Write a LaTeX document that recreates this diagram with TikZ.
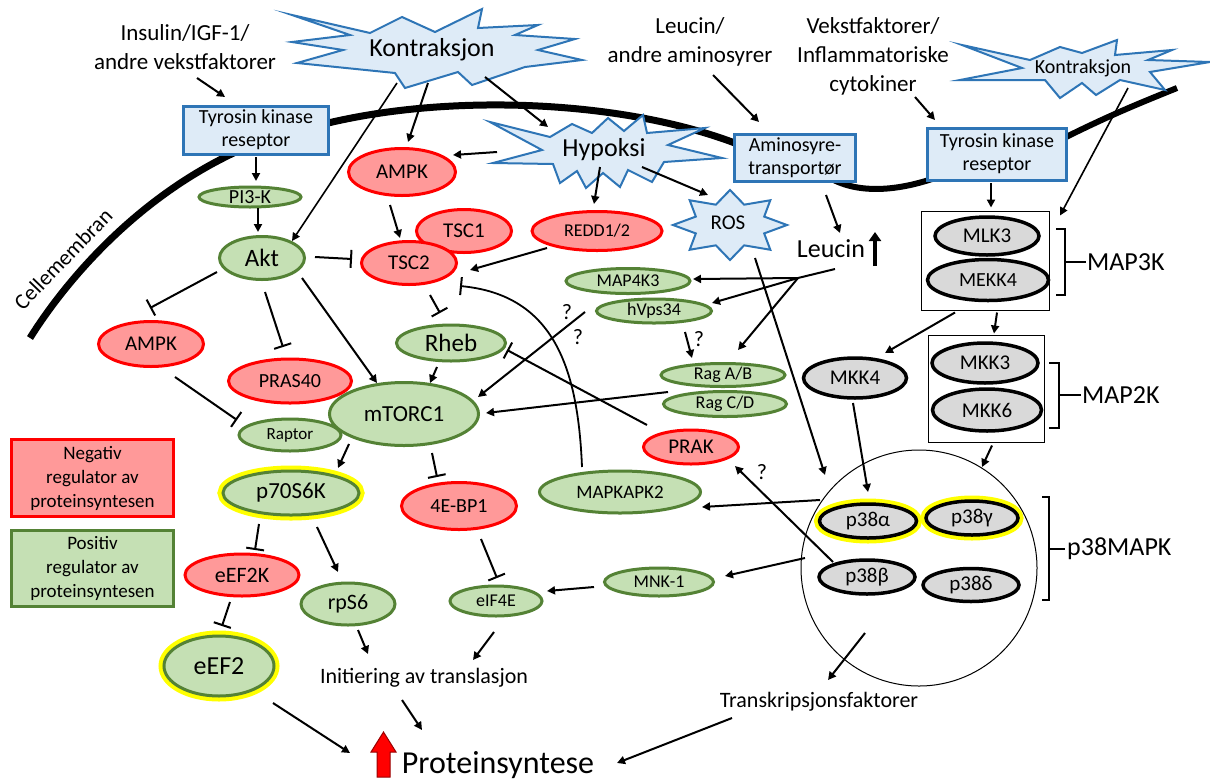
\documentclass[tikz,border=0pt]{standalone}
\usepackage{fontspec}
\setmainfont{Carlito}
\usetikzlibrary{arrows.meta,calc,shapes.geometric}
\definecolor{redfill}{HTML}{FF9999}
\definecolor{redline}{HTML}{FF0000}
\definecolor{grfill}{HTML}{C5E0B4}
\definecolor{grline}{HTML}{548235}
\definecolor{gyfill}{HTML}{D9D9D9}
\definecolor{blfill}{HTML}{DEEBF7}
\definecolor{blline}{HTML}{2E75B6}
\definecolor{ylw}{HTML}{FFFF00}
\newcommand\fz[2]{\fontsize{#1}{#2}\selectfont}
\begin{document}
\begin{tikzpicture}[x=1pt,y=-1pt,
 ell/.style={ellipse, inner sep=0pt, outer sep=0pt, line width=3pt, align=center},
 rnode/.style={ell, fill=redfill, draw=redline},
 gnode/.style={ell, fill=grfill, draw=grline},
 gynode/.style={ell, fill=gyfill, draw=black, line width=3.5pt},
 glow/.style={preaction={draw=ylw, line width=11pt}},
 bbox/.style={rectangle, fill=blfill, draw=blline, line width=3pt, align=center, inner sep=0pt, font=\fz{20}{23}},
 burst/.style={fill=blfill, draw=blline, line width=2pt, line join=miter, miter limit=20},
 arr/.style={line width=2pt, -{Triangle[length=8pt,width=8pt]}},
 inh/.style={line width=2pt, -{Bar[width=18pt,line width=2pt]}},
 txt/.style={inner sep=0pt, align=center},
 mk/.style={rectangle, draw=black, line width=1pt, inner sep=0pt},
 brk/.style={line width=2pt},
]
\useasboundingbox (0,0) rectangle (1210,780);
\fill[white] (0,0) rectangle (1210,780);

% membrane
\draw[line width=7pt] (30,338) .. controls (60,290) and (130,200) .. (240,150) -- (320,125) .. controls (450,92) and (630,100) .. (745,147);
\draw[line width=6pt] (830,178) .. controls (860,195) and (900,190) .. (935,178);
\draw[line width=6pt] (1060,140) .. controls (1110,115) and (1140,103) .. (1177,88);
\node[txt, rotate=46, font=\fz{22}{24}] (cell) at (63,259) {Cellemembran};

% bursts
\draw[burst] (292,15) -- (370,33) -- (402,17) -- (435,32) -- (482,9) -- (478,28) -- (538,25) -- (515,35) -- (575,39) -- (538,50) -- (582,60) -- (525,67) -- (472,85) -- (458,72) -- (405,88) -- (395,73) -- (297,63) -- (343,50) -- (292,42) -- (350,35) -- cycle;
\node[txt, font=\fz{26}{28}] (kon) at (432,50) {Kontraksjon};
\draw[burst] (490,122) -- (550,137) -- (572,124) -- (592,133) -- (608,118) -- (624,131) -- (643,115) -- (647,133) -- (705,128) -- (668,145) -- (722,158) -- (664,162) -- (652,182) -- (628,170) -- (620,187) -- (603,173) -- (586,188) -- (577,171) -- (560,183) -- (553,164) -- (493,163) -- (542,150) -- cycle;
\node[txt, font=\fz{26}{28}] (hyp) at (604,150) {Hypoksi};
\draw[burst] plot[samples at={0,...,15}, variable=\k] ({730+ifthenelse(isodd(\k),37,57)*cos(-90+22.5*\k)}, {225+ifthenelse(isodd(\k),22,35)*sin(-90+22.5*\k)}) -- cycle;
\node[txt, font=\fz{21}{24}] (ros) at (728,223) {ROS};
\draw[burst] (962,45) -- (1030,60) -- (1060,47) -- (1082,53) -- (1117,40) -- (1115,55) -- (1172,50) -- (1148,60) -- (1210,62) -- (1150,72) -- (1165,90) -- (1120,80) -- (1096,95) -- (1082,83) -- (1060,98) -- (1045,80) -- (960,80) -- (1022,68) -- cycle;
\node[txt, font=\fz{20}{22}] (kon2) at (1083,68) {Kontraksjon};

% top labels
\node[txt, font=\fz{23}{29}] (ins) at (185,47) {Insulin/IGF-1/\\andre vekstfaktorer};
\node[txt, font=\fz{23}{29}] (leuT) at (690,42) {Leucin/\\andre aminosyrer};
\node[txt, font=\fz{23}{29}] (vekst) at (873,56) {Vekstfaktorer/\\Inflammatoriske\\cytokiner};

% boxes
\node[bbox, minimum width=145pt, minimum height=48pt] (tkr1) at (256,130) {Tyrosin kinase\\reseptor};
\node[bbox, minimum width=121pt, minimum height=47pt] (amino) at (795,158) {Aminosyre-\\transportør};
\node[bbox, minimum width=139pt, minimum height=52pt] (tkr2) at (997,154) {Tyrosin kinase\\reseptor};

% left pathway
\node[gnode, minimum width=102pt, minimum height=20pt, font=\fz{20}{22}] (pi3k) at (250,197) {PI3-K};
\node[gnode, minimum width=85pt, minimum height=43pt, font=\fz{25}{27}] (akt) at (262,258) {Akt};
\node[rnode, minimum width=107pt, minimum height=47pt, font=\fz{21}{23}] (ampk1) at (402,172) {AMPK};
\node[rnode, minimum width=95pt, minimum height=43pt, font=\fz{21}{23}] (tsc1) at (464,231) {TSC1};
\node[rnode, minimum width=95pt, minimum height=43pt, font=\fz{21}{23}] (tsc2) at (409,263) {TSC2};
\node[rnode, minimum width=130pt, minimum height=39pt, font=\fz{18}{20}] (redd) at (597,231) {REDD1/2};
\coordinate (tscj) at (460,286);
\node[gnode, minimum width=109pt, minimum height=36pt, font=\fz{25}{27}] (rheb) at (451,343) {Rheb};
\node[gnode, minimum width=149pt, minimum height=63pt, font=\fz{23}{25}] (mtor) at (404,414) {mTORC1};
\node[gnode, minimum width=102pt, minimum height=32pt, font=\fz{17}{19}] (raptor) at (290,435) {Raptor};
\node[rnode, minimum width=105pt, minimum height=45pt, font=\fz{21}{23}] (ampk2) at (151,344) {AMPK};
\node[rnode, minimum width=123pt, minimum height=44pt, font=\fz{20}{22}] (pras) at (290,381) {PRAS40};
\node[gnode, glow, minimum width=136pt, minimum height=44pt, font=\fz{23}{25}] (p70) at (291,493) {p70S6K};
\node[rnode, minimum width=115pt, minimum height=47pt, font=\fz{20}{22}] (ebp) at (459,506) {4E-BP1};
\node[gnode, minimum width=161pt, minimum height=42pt, font=\fz{19}{21}] (mapkapk2) at (620,492) {MAPKAPK2};
\node[rnode, minimum width=95pt, minimum height=34pt, font=\fz{21}{23}] (prak) at (691,447) {PRAK};
\node[rnode, minimum width=114pt, minimum height=42pt, font=\fz{22}{24}] (eef2k) at (242,575) {eEF2K};
\node[gnode, minimum width=94pt, minimum height=42pt, font=\fz{22}{24}] (rps6) at (348,604) {rpS6};
\node[gnode, glow, minimum width=110pt, minimum height=60pt, font=\fz{26}{28}] (eef2) at (219,666) {eEF2};
\node[gnode, minimum width=92pt, minimum height=30pt, font=\fz{18}{20}] (eif4e) at (496,601) {eIF4E};
\node[gnode, minimum width=109pt, minimum height=28pt, font=\fz{18}{20}] (mnk) at (659,582) {MNK-1};
\node[gnode, minimum width=124pt, minimum height=25pt, font=\fz{18}{20}] (map4k3) at (628,281) {MAP4K3};
\node[gnode, minimum width=115pt, minimum height=24pt, font=\fz{18}{20}] (hvps) at (654,311) {hVps34};
\node[gnode, minimum width=124pt, minimum height=23pt, font=\fz{18}{20}] (ragab) at (723,375) {Rag A/B};
\node[gnode, minimum width=123pt, minimum height=25pt, font=\fz{18}{20}] (ragcd) at (725,404) {Rag C/D};

% texts
\node[txt, font=\fz{26}{28}] (leucin) at (831,249) {Leucin};
\coordinate (lj) at (798,278);
\node[txt, font=\fz{22}{24}] (init) at (424,678) {Initiering av translasjon};
\node[txt, font=\fz{22}{24}] (trans) at (819,702) {Transkripsjonsfaktorer};
\node[txt, font=\fz{32}{34}] (prot) at (498,765) {Proteinsyntese};
\node[txt, font=\fz{22}{24}] (q1) at (567,312) {?};
\node[txt, font=\fz{22}{24}] (q2) at (578,337) {?};
\node[txt, font=\fz{22}{24}] (q3) at (699,339) {?};
\node[txt, font=\fz{22}{24}] (q4) at (762,472) {?};

% MAPK modules
\node[mk, minimum width=128pt, minimum height=99pt] (map3k) at (985,260.5) {};
\node[gynode, minimum width=104pt, minimum height=38pt, font=\fz{21}{23}] (mlk3) at (987,236) {MLK3};
\node[gynode, minimum width=121pt, minimum height=41pt, font=\fz{20}{22}] (mekk4) at (988,280) {MEKK4};
\node[gynode, minimum width=103pt, minimum height=40pt, font=\fz{21}{23}] (mkk4) at (855,378) {MKK4};
\node[mk, minimum width=116pt, minimum height=107pt] (map2k) at (986,388.5) {};
\node[gynode, minimum width=106pt, minimum height=40pt, font=\fz{21}{23}] (mkk3) at (985,363) {MKK3};
\node[gynode, minimum width=109pt, minimum height=42pt, font=\fz{21}{23}] (mkk6) at (987,410) {MKK6};
\node[circle, draw=black, line width=1pt, minimum size=236pt, inner sep=0pt] (circ) at (919,568) {};
\node[gynode, glow, minimum width=97pt, minimum height=34pt, font=\fz{21}{23}] (p38a) at (868,521) {p38α};
\node[gynode, glow, minimum width=92pt, minimum height=34pt, font=\fz{21}{23}] (p38g) at (972,518) {p38γ};
\node[gynode, minimum width=96pt, minimum height=34pt, font=\fz{21}{23}] (p38b) at (867,577) {p38β};
\node[gynode, minimum width=96pt, minimum height=33pt, font=\fz{21}{23}] (p38d) at (971,585) {p38δ};

% brackets and labels
\draw[brk] (1056,229) -- (1065,229) -- (1065,295) -- (1056,295);
\draw[brk] (1065,262) -- (1086,262);
\node[txt, anchor=west, font=\fz{26}{28}] (map3kl) at (1087,262) {MAP3K};
\draw[brk] (1049,363) -- (1059,363) -- (1059,428) -- (1049,428);
\draw[brk] (1059,395) -- (1081,395);
\node[txt, anchor=west, font=\fz{26}{28}] (map2kl) at (1082,395) {MAP2K};
\draw[brk] (1042,497) -- (1049,497) -- (1049,600) -- (1042,600);
\draw[brk] (1049,549) -- (1065,549);
\node[txt, anchor=west, font=\fz{26}{28}] (p38l) at (1067,549) {p38MAPK};

% legend
\node[rectangle, fill=redfill, draw=redline, line width=3pt, minimum width=162pt, minimum height=77pt, align=center, font=\fz{19}{24}] (neg) at (92.5,478) {Negativ\\regulator av\\proteinsyntesen};
\node[rectangle, fill=grfill, draw=grline, line width=3pt, minimum width=162pt, minimum height=76pt, align=center, font=\fz{19}{24}] (pos) at (92.5,568.5) {Positiv\\regulator av\\proteinsyntesen};

% arrows
\draw[arr] ($(ins)+(12,31)$) -- ($(tkr1)+(-31,-33)$);
\draw[arr] ($(tkr1)+(0,27)$) -- ($(pi3k)+(6,-16)$);
\draw[arr] ($(pi3k)+(8,11)$) -- ($(akt)+(-4,-26)$);
\draw[arr, line width=1.6pt] ($(kon)+(-35,33)$) -- ($(akt)+(30,-17)$);
\draw[arr] ($(kon)+(-4,33)$) -- ($(ampk1)+(6,-30)$);
\draw[arr] ($(kon)+(53,27)$) -- ($(hyp)+(-56,-23)$);
\draw[arr] ($(hyp)+(-107,2)$) -- ($(ampk1)+(51,-17)$);
\draw[arr] ($(hyp)+(-4,17)$) -- ($(redd)+(-3,-27)$);
\draw[arr] ($(hyp)+(38,17)$) -- ($(ros)+(-20,-28)$);
\draw[arr] ($(ampk1)+(-12,33)$) -- ($(tsc2)+(-9,-25)$);
\draw[inh] ($(akt)+(53,-1)$) -- ($(tsc2)+(-57,-4)$);
\draw[arr] ($(redd)+(-50,17)$) -- ($(tscj)+(10,-16)$);
\draw[inh] ($(tsc2)+(21,32)$) -- ($(rheb)+(-11,-30)$);
\draw[inh, line width=1.8pt] ($(mapkapk2)+(-38,-25)$) .. controls (578,370) and (555,295) .. (tscj);
\draw[arr] ($(rheb)+(-14,24)$) -- ($(mtor)+(26,-31)$);
\draw[arr] ($(akt)+(40,20)$) -- ($(mtor)+(-27,-31)$);
\draw[inh] ($(akt)+(-45,14)$) -- ($(ampk2)+(-1,-36)$);
\draw[inh] ($(akt)+(3,34)$) -- ($(pras)+(-7,-34)$);
\draw[inh] ($(ampk2)+(24,33)$) -- ($(raptor)+(-53,-15)$);
\draw[arr] ($(mtor)+(-55,30)$) -- ($(p70)+(47,-25)$);
\draw[inh] ($(mtor)+(28,39)$) -- ($(ebp)+(-22,-29)$);
\draw[arr] ($(hvps)+(-69,1)$) -- ($(mtor)+(74,-17)$);
\draw[arr] ($(ragab)+(-55,17)$) -- ($(mtor)+(82,-1)$);
\draw[inh] ($(prak)+(-44,-22)$) -- ($(rheb)+(56,7)$);
\draw[line width=2pt] ($(leucin)+(4,20)$) -- (lj);
\draw[arr] (lj) -- ($(map4k3)+(65,-2)$);
\draw[arr] (lj) -- ($(hvps)+(58,-8)$);
\draw[arr] (lj) -- ($(ragab)+(15,-25)$);
\draw[arr] ($(hvps)+(31,21)$) -- ($(ragab)+(-31,-17)$);
\draw[arr] ($(amino)+(31,37)$) -- ($(leucin)+(9,-16)$);
\draw[line width=4pt, -{Triangle[length=9pt,width=12pt]}] ($(leucin)+(44,17)$) -- ($(leucin)+(44,-17)$);
\draw[arr] ($(leuT)+(23,33)$) -- ($(amino)+(-36,-36)$);
\draw[arr] ($(vekst)+(42,41)$) -- ($(tkr2)+(-62,-34)$);
\draw[arr] ($(tkr2)+(-6,29)$) -- ($(map3k)+(6,-53)$);
\draw[arr, line width=1.6pt] ($(kon2)+(45,20)$) -- ($(map3k)+(75,-45)$);
\draw[arr] ($(ros)+(27,35)$) -- ($(circ)+(-94,-93)$);
\draw[arr] ($(map3k)+(-30,52)$) -- ($(mkk4)+(30,-25)$);
\draw[arr] ($(map3k)+(12,52)$) -- ($(map2k)+(8,-55)$);
\draw[arr] ($(mkk4)+(-2,25)$) -- ($(p38a)+(0,-29)$);
\draw[arr] ($(map2k)+(6,57)$) -- ($(circ)+(63,-101)$);
\draw[arr] ($(circ)+(-99,-68)$) -- ($(mapkapk2)+(82,15)$);
\draw[arr] ($(p38b)+(-34,-15)$) -- ($(prak)+(44,19)$);
\draw[arr] ($(circ)+(-114,-10)$) -- ($(mnk)+(66,-6)$);
\draw[arr] ($(mnk)+(-65,5)$) -- ($(eif4e)+(51,-10)$);
\draw[inh] ($(ebp)+(22,33)$) -- ($(eif4e)+(1,-23)$);
\draw[arr] ($(eif4e)+(-2,31)$) -- ($(init)+(49,-18)$);
\draw[arr] ($(circ)+(-54,65)$) -- ($(trans)+(9,-22)$);
\draw[arr] ($(trans)+(-87,16)$) -- ($(prot)+(119,-2)$);
\draw[arr] ($(init)+(-22,22)$) -- ($(prot)+(-76,-35)$);
\draw[arr] ($(eef2)+(54,37)$) -- ($(prot)+(-148,-12)$);
\draw[inh] ($(p70)+(-32,31)$) -- ($(eef2k)+(13,-25)$);
\draw[arr] ($(p70)+(26,34)$) -- ($(rps6)+(-10,-32)$);
\draw[inh] ($(eef2k)+(-12,27)$) -- ($(eef2)+(3,-40)$);
\draw[arr] ($(rps6)+(10,26)$) -- ($(init)+(-56,-24)$);

% red up arrow
\draw[fill=red, draw=red!60!black, line width=1pt] (377,777) -- (390,777) -- (390,752) -- (396,752) -- (383.5,732) -- (371,752) -- (377,752) -- cycle;
\end{tikzpicture}
\end{document}
